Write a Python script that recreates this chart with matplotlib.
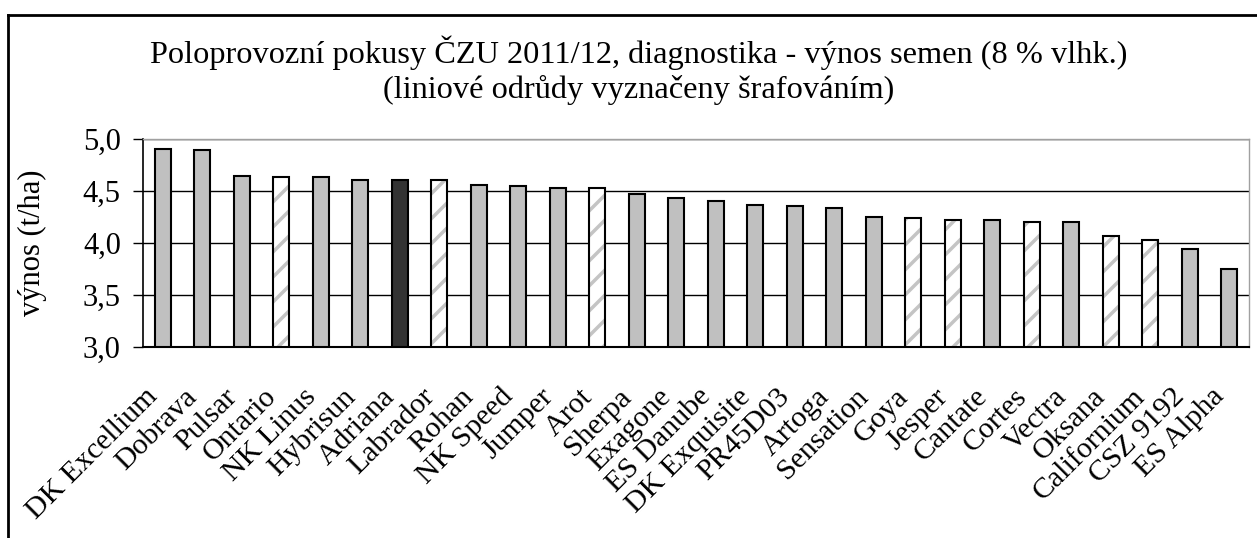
import matplotlib
matplotlib.use('Agg')
import matplotlib.pyplot as plt
from matplotlib.lines import Line2D
from matplotlib.transforms import ScaledTranslation
from matplotlib.backend_bases import GraphicsContextBase

# odrudy a vynosy (t/ha)
odrudy = ['DK Excellium', 'Dobrava', 'Pulsar', 'Ontario', 'NK Linus', 'Hybrisun',
          'Adriana', 'Labrador', 'Rohan', 'NK Speed', 'Jumper', 'Arot', 'Sherpa',
          'Exagone', 'ES Danube', 'DK Exquisite', 'PR45D03', 'Artoga', 'Sensation',
          'Goya', 'Jesper', 'Cantate', 'Cortes', 'Vectra', 'Oksana', 'Californium',
          'CSZ 9192', 'ES Alpha']
vynos = [4.90, 4.89, 4.64, 4.63, 4.63, 4.61, 4.61, 4.61, 4.56, 4.545, 4.53, 4.53,
         4.47, 4.43, 4.40, 4.37, 4.36, 4.34, 4.25, 4.24, 4.225, 4.225, 4.20, 4.20,
         4.07, 4.025, 3.94, 3.75]
# typ: 'h' hybrid, 'l' liniova (srafovana), 'k' kontrola (tmava)
typ = ['h', 'h', 'h', 'l', 'h', 'h', 'k', 'l', 'h', 'h', 'h', 'l', 'h', 'h', 'h',
       'h', 'h', 'h', 'h', 'l', 'l', 'h', 'l', 'h', 'l', 'l', 'h', 'h']
yticks = [3.0, 3.5, 4.0, 4.5, 5.0]

# hustsi srafovani nez vychozi
_hatch_path = GraphicsContextBase.get_hatch_path
GraphicsContextBase.get_hatch_path = lambda self, density=8.0: _hatch_path(self, density)

plt.rcParams['font.family'] = ['Liberation Serif', 'DejaVu Serif']
plt.rcParams['hatch.linewidth'] = 2.5

fig = plt.figure(figsize=(12.57, 5.38), dpi=100)
ax = fig.add_axes([143 / 1257, 1 - 347 / 538, 1106 / 1257, 208 / 538])

x = list(range(len(odrudy)))
w = 0.40
for i, (v, t) in enumerate(zip(vynos, typ)):
    if t == 'l':
        ax.bar(i, v - 3.0, bottom=3.0, width=w, color='white', hatch='/',
               edgecolor='#c4c4c4', linewidth=0, zorder=3)
        ax.bar(i, v - 3.0, bottom=3.0, width=w, fill=False,
               edgecolor='black', linewidth=1.5, zorder=4)
    else:
        fc = '#333333' if t == 'k' else '#c0c0c0'
        ax.bar(i, v - 3.0, bottom=3.0, width=w, color=fc,
               edgecolor='black', linewidth=1.5, zorder=3)

ax.set_xlim(-0.5, len(odrudy) - 0.5)
ax.set_ylim(3.0, 5.0)
ax.set_yticks(yticks)
ax.set_yticklabels([f'{t:.1f}'.replace('.', ',') for t in yticks], fontsize=22)
ax.set_xticks(x)
ax.set_xticklabels(odrudy, rotation=45, ha='right', va='center',
                   rotation_mode='anchor', fontsize=21.5)
ax.tick_params(axis='x', length=0, pad=33)
off = ScaledTranslation(-9 / 100, 0, fig.dpi_scale_trans)
for lab in ax.get_xticklabels():
    lab.set_transform(lab.get_transform() + off)
ax.tick_params(axis='y', length=7, width=1, direction='out', pad=9)
ax.grid(axis='y', color='black', linewidth=1, zorder=1)

for s in ['top', 'right']:
    ax.spines[s].set_color('#a0a0a0')
    ax.spines[s].set_linewidth(1)
ax.spines['left'].set_linewidth(1.2)
ax.spines['bottom'].set_linewidth(1.5)

ax.set_ylabel('výnos (t/ha)', fontsize=22)
ax.yaxis.set_label_coords(-0.087, 0.5)

fig.text(0.508, 1 - 63 / 538,
         'Poloprovozní pokusy ČZU 2011/12, diagnostika - výnos semen (8 % vlhk.)',
         ha='center', va='baseline', fontsize=23.3)
fig.text(0.508, 1 - 98 / 538, '(liniové odrůdy vyznačeny šrafováním)',
         ha='center', va='baseline', fontsize=23.3)

# ramecek obrazku
fig.add_artist(Line2D([8 / 1257, 8 / 1257], [0, 1 - 15 / 538], color='black',
                      linewidth=2, transform=fig.transFigure))
fig.add_artist(Line2D([8 / 1257, 1], [1 - 15 / 538, 1 - 15 / 538], color='black',
                      linewidth=2, transform=fig.transFigure))

fig.savefig('out.png', dpi=100)
